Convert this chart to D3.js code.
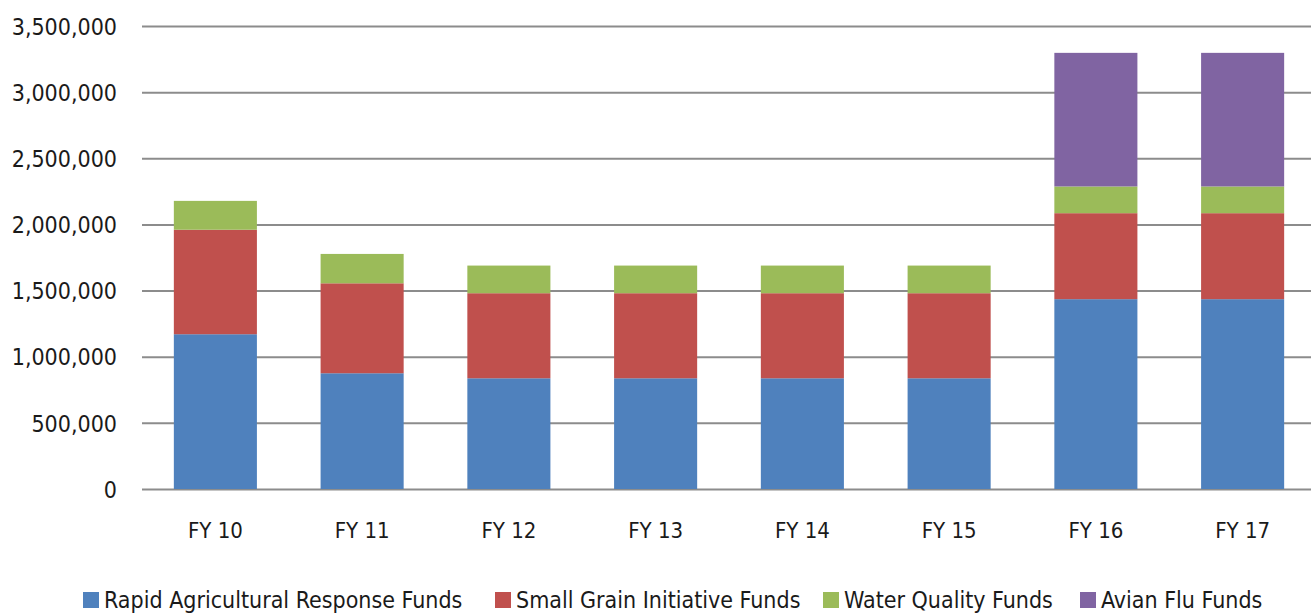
<!DOCTYPE html>
<html>
<head>
<meta charset="utf-8">
<script src="https://cdn.jsdelivr.net/npm/d3@7"></script>
<style>
  body { margin: 0; background: #fff; }
  svg { display: block; }
  .axis text { font-family: "DejaVu Sans Condensed", "Liberation Sans Narrow", sans-serif; fill: #1a1a1a; }
  .y.axis .tick line { stroke: #8c8c8c; stroke-width: 2px; }
  .legend text { font-family: "DejaVu Sans Condensed", "Liberation Sans Narrow", sans-serif; fill: #1a1a1a; }
</style>
</head>
<body>
<div id="chart"></div>
<script>
// categories and series values
var years = ["FY 10", "FY 11", "FY 12", "FY 13", "FY 14", "FY 15", "FY 16", "FY 17"];
var rapidFunds = [1170000, 875000, 837000, 837000, 837000, 837000, 1435000, 1435000];
var smallGrainFunds = [790000, 680000, 643000, 643000, 643000, 643000, 650000, 650000];
var waterFunds = [218000, 222000, 209000, 209000, 209000, 209000, 202000, 202000];
var avianFunds = [0, 0, 0, 0, 0, 0, 1010000, 1010000];
var yTicks = [0, 500000, 1000000, 1500000, 2000000, 2500000, 3000000, 3500000];

var keys = ["Rapid Agricultural Response Funds", "Small Grain Initiative Funds", "Water Quality Funds", "Avian Flu Funds"];
var colors = ["#4f81bd", "#c0504d", "#9bbb59", "#8064a2"];

var width = 1311;
var height = 615;

var rows = years.map(function(y, i) {
  return {
    year: y,
    "Rapid Agricultural Response Funds": rapidFunds[i],
    "Small Grain Initiative Funds": smallGrainFunds[i],
    "Water Quality Funds": waterFunds[i],
    "Avian Flu Funds": avianFunds[i]
  };
});

var stacked = d3.stack().keys(keys)(rows);

var svg = d3.select("#chart").append("svg")
  .attr("width", width)
  .attr("height", height);

/* Scales */
var xScale = d3.scaleBand()
  .domain(years)
  .range([142, 1316])
  .paddingInner(0.434)
  .paddingOuter(0.217);

var yScale = d3.scaleLinear()
  .domain([0, 3500000])
  .range([489, 26]);

var color = d3.scaleOrdinal().domain(keys).range(colors);

/* gridlines + y labels */
var yAxis = d3.axisLeft(yScale)
  .tickValues(yTicks)
  .tickSize(-(width - 142))
  .tickPadding(25)
  .tickFormat(d3.format(","));

svg.append("g")
  .attr("class", "y axis")
  .attr("transform", "translate(142,0)")
  .call(yAxis)
  .call(g => g.select(".domain").remove())
  .selectAll("text")
  .style("font-size", "23px")
  .attr("dy", "0.36em");

/* bars */
svg.append("g")
  .selectAll("g")
  .data(stacked).enter()
  .append("g")
  .attr("fill", d => color(d.key))
  .selectAll("rect")
  .data(d => d).enter()
  .append("rect")
  .attr("x", d => xScale(d.data.year))
  .attr("y", d => yScale(d[1]))
  .attr("height", d => yScale(d[0]) - yScale(d[1]))
  .attr("width", xScale.bandwidth());

/* x labels */
var xAxis = d3.axisBottom(xScale).tickSize(0).tickPadding(33);

svg.append("g")
  .attr("class", "x axis")
  .attr("transform", "translate(0,489)")
  .call(xAxis)
  .call(g => g.select(".domain").remove())
  .selectAll("text")
  .style("font-size", "22px");

/* legend */
var legendX = [83, 495, 823, 1080];
var legend = svg.selectAll(".legend")
  .data(keys).enter()
  .append("g")
  .attr("class", "legend")
  .attr("transform", (d, i) => "translate(" + legendX[i] + ",592)");

legend.append("rect")
  .attr("width", 16)
  .attr("height", 16)
  .attr("fill", d => color(d));

legend.append("text")
  .attr("x", 21)
  .attr("y", 16)
  .style("font-size", "23px")
  .text(d => d);
</script>
</body>
</html>
